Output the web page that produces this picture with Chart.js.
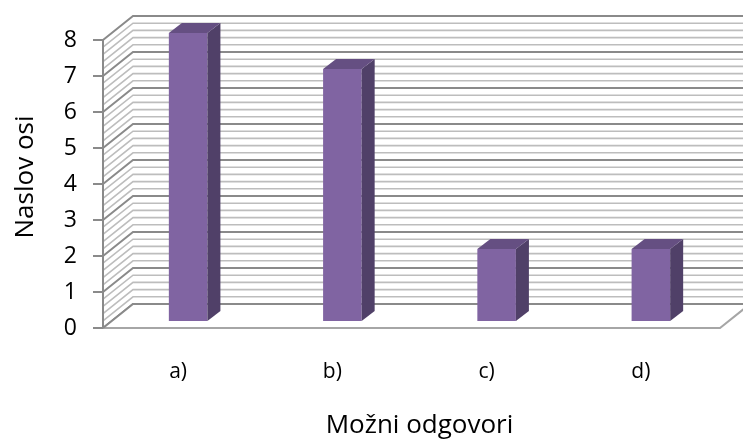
<!DOCTYPE html>
<html>
<head>
<meta charset="utf-8">
<script src="https://cdn.jsdelivr.net/npm/chart.js@4"></script>
<style>
  html, body { margin: 0; padding: 0; background: #fff; }
  canvas { display: block; }
</style>
</head>
<body>
<canvas id="chart" width="743" height="441"></canvas>
<script>
const categories = ['a)', 'b)', 'c)', 'd)'];
const responses = [8, 7, 2, 2];
const yTickValues = [0, 1, 2, 3, 4, 5, 6, 7, 8];
const xTitle = 'Možni odgovori';
const yTitle = 'Naslov osi';

// oblique offsets relative to the plane the bars stand on
const BACK = { dx: 22, dy: -17 };
const FRONT = { dx: -8, dy: 7 };
const BAR = { dx: 13, dy: -10 };

const walls3d = {
    id: 'walls3d',
    beforeDatasetsDraw(chart) {
        const { ctx, chartArea: a, scales: { y } } = chart;
        const bx = a.left + BACK.dx;
        const fx = a.left + FRONT.dx;
        const farRight = a.right + BACK.dx;
        const top = y.max;
        ctx.save();
        ctx.lineCap = 'butt';

        // minor gridlines (every 0.2)
        const lines = [];
        for (let i = 0; i <= top * 5; i++) lines.push(i / 5);
        const drawLine = (v, color, w) => {
            const py = y.getPixelForValue(v);
            ctx.strokeStyle = color;
            ctx.lineWidth = w;
            ctx.beginPath();
            ctx.moveTo(fx, py + FRONT.dy);
            ctx.lineTo(bx, py + BACK.dy);
            ctx.lineTo(farRight, py + BACK.dy);
            ctx.stroke();
        };
        lines.forEach((v, i) => { if (i % 5) drawLine(v, '#bdbdbd', 1.6); });
        yTickValues.forEach(v => drawLine(v, '#8a8a8a', 2));

        // floor
        const y0 = y.getPixelForValue(0);
        ctx.fillStyle = '#ffffff';
        ctx.beginPath();
        ctx.moveTo(fx, y0 + FRONT.dy);
        ctx.lineTo(a.right + FRONT.dx, y0 + FRONT.dy);
        ctx.lineTo(farRight, y0 + BACK.dy);
        ctx.lineTo(bx, y0 + BACK.dy);
        ctx.closePath();
        ctx.fill();
        ctx.strokeStyle = '#a6a6a6';
        ctx.lineWidth = 2;
        ctx.beginPath();
        ctx.moveTo(fx, y0 + FRONT.dy);
        ctx.lineTo(a.right + FRONT.dx, y0 + FRONT.dy);
        ctx.lineTo(farRight, y0 + BACK.dy);
        ctx.stroke();
        ctx.strokeStyle = '#8a8a8a';
        ctx.beginPath();
        ctx.moveTo(fx, y0 + FRONT.dy);
        ctx.lineTo(bx, y0 + BACK.dy);
        ctx.lineTo(farRight, y0 + BACK.dy);
        ctx.stroke();

        // front value axis with tick marks
        ctx.strokeStyle = '#8a8a8a';
        ctx.lineWidth = 2;
        ctx.beginPath();
        ctx.moveTo(fx, y.getPixelForValue(top) + FRONT.dy);
        ctx.lineTo(fx, y0 + FRONT.dy);
        yTickValues.forEach(v => {
            const py = y.getPixelForValue(v) + FRONT.dy;
            ctx.moveTo(fx - 10, py);
            ctx.lineTo(fx, py);
        });
        ctx.stroke();
        ctx.restore();
    },
    afterDatasetsDraw(chart) {
        const { ctx } = chart;
        const meta = chart.getDatasetMeta(0);
        ctx.save();
        meta.data.forEach(bar => {
            const { x, y, base, width } = bar.getProps(['x', 'y', 'base', 'width'], true);
            const l = x - width / 2, r = x + width / 2;
            // side face
            ctx.fillStyle = '#504068';
            ctx.beginPath();
            ctx.moveTo(r, y);
            ctx.lineTo(r + BAR.dx, y + BAR.dy);
            ctx.lineTo(r + BAR.dx, base + BAR.dy);
            ctx.lineTo(r, base);
            ctx.closePath();
            ctx.fill();
            // top face
            ctx.fillStyle = '#654f82';
            ctx.beginPath();
            ctx.moveTo(l, y);
            ctx.lineTo(l + BAR.dx, y + BAR.dy);
            ctx.lineTo(r + BAR.dx, y + BAR.dy);
            ctx.lineTo(r, y);
            ctx.closePath();
            ctx.fill();
        });
        ctx.restore();
    }
};

const ctx = document.getElementById('chart').getContext('2d');

new Chart(ctx, {
    type: 'bar',
    data: {
        labels: categories,
        datasets: [{
            label: yTitle,
            data: responses,
            backgroundColor: '#8064a2',
            borderWidth: 0,
            barPercentage: 0.25,
            categoryPercentage: 1,
        }],
    },
    options: {
        responsive: false,
        animation: false,
        layout: { padding: { top: 33, right: 15, bottom: 0, left: 0 } },
        plugins: {
            legend: { display: false },
            tooltip: { enabled: false },
        },
        scales: {
            x: {
                grid: { display: false, drawTicks: false },
                border: { display: false },
                ticks: {
                    color: '#000',
                    font: { family: 'Open Sans', size: 21 },
                    padding: 38,
                    labelOffset: -10,
                },
                title: {
                    display: true,
                    text: xTitle,
                    color: '#000',
                    font: { family: 'Open Sans', size: 26 },
                    padding: 0,
                },
                afterFit: s => { s.height = 120; },
            },
            y: {
                min: 0,
                max: 8,
                grid: { display: false, drawTicks: false },
                border: { display: false },
                afterBuildTicks: s => { s.ticks = yTickValues.map(v => ({ value: v })); },
                ticks: {
                    color: '#000',
                    font: { family: 'Open Sans', size: 23 },
                    padding: 34,
                    labelOffset: 7,
                },
                title: {
                    display: true,
                    text: yTitle,
                    color: '#000',
                    font: { family: 'Open Sans', size: 26 },
                    padding: { top: 10, bottom: 0 },
                },
                afterFit: s => {
                    s.width = 111;
                    s.paddingTop = 0;
                    s.paddingBottom = 0;
                },
            },
        },
    },
    plugins: [walls3d],
});
</script>
</body>
</html>
